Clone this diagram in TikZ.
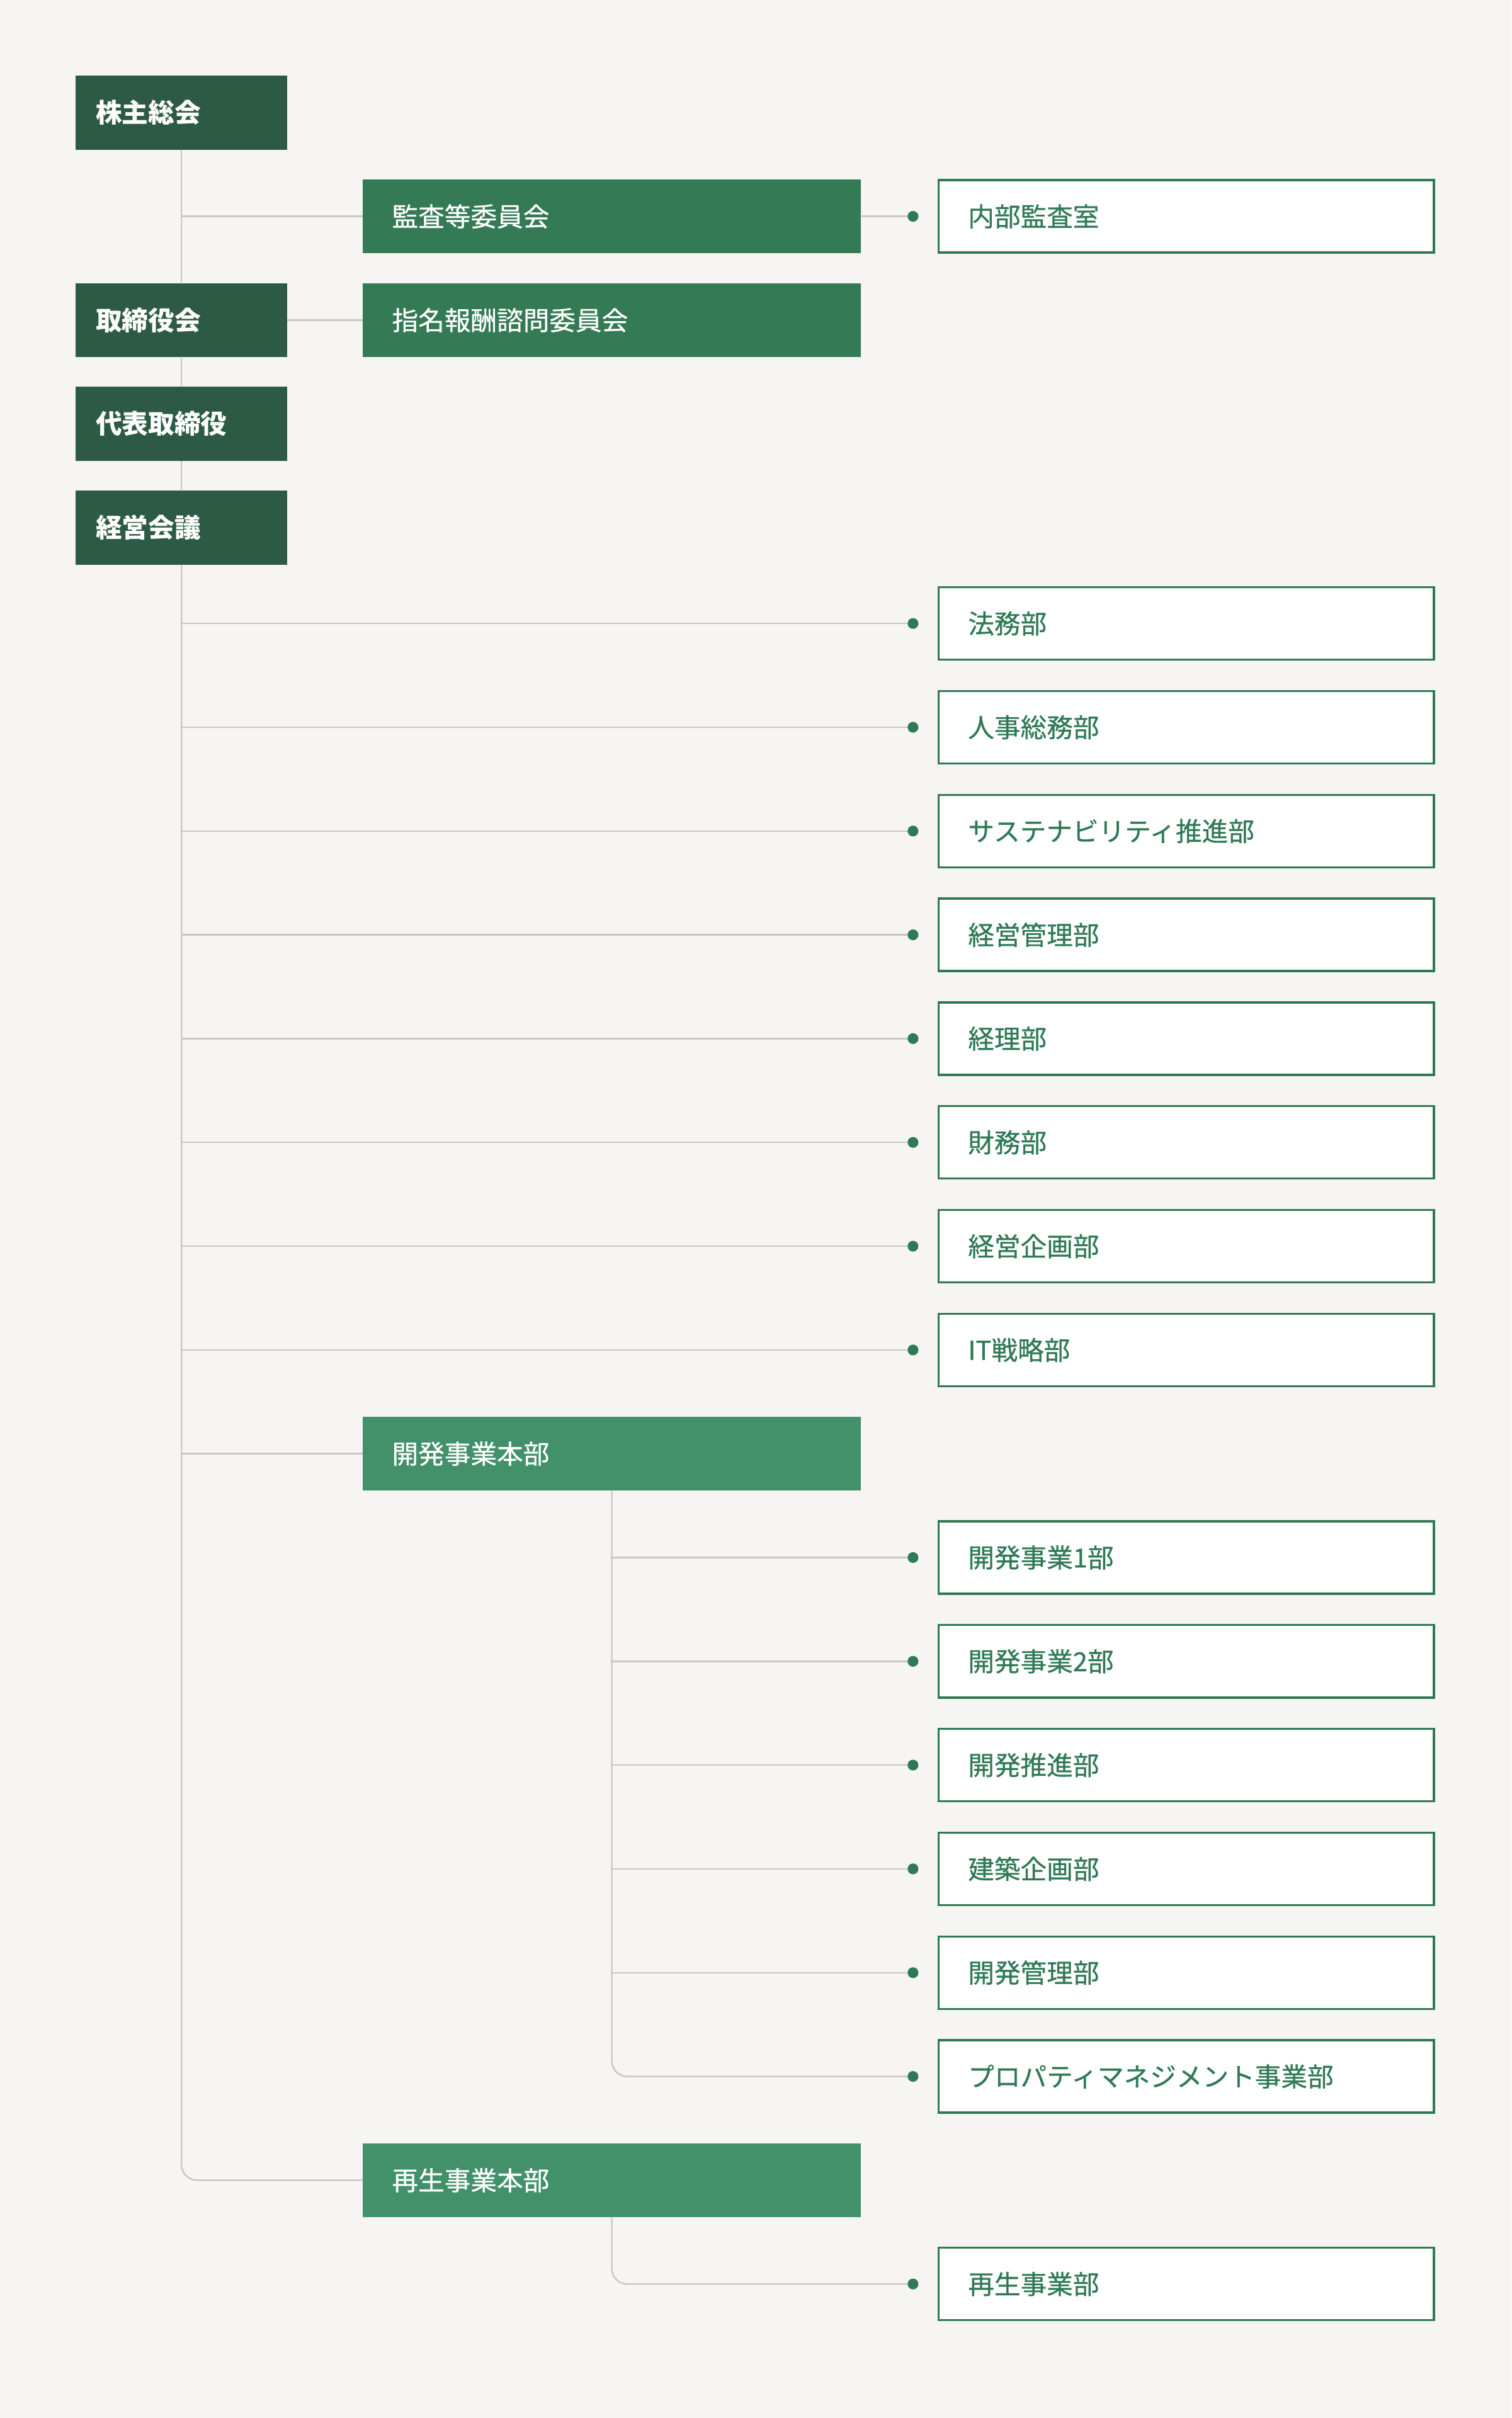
\documentclass[tikz,border=0pt]{standalone}
\usepackage{fontspec}
\setmainfont{Noto Sans CJK JP}
\newfontfamily\medfont[FakeBold=0.6]{Noto Sans CJK JP}
\usetikzlibrary{positioning}
\definecolor{bgcol}{HTML}{F6F5F3}
\definecolor{darkgreen}{HTML}{2C5A44}
\definecolor{midgreen}{HTML}{347A55}
\definecolor{lightgreen}{HTML}{42916A}
\definecolor{linegray}{HTML}{C8C7C5}
\definecolor{deptgreen}{HTML}{2F7A55}

\begin{document}
\begin{tikzpicture}[x=1pt,y=-1pt,
	topbox/.style={fill=darkgreen, text=white, font=\bfseries\fontsize{17}{20}\selectfont, anchor=west, minimum height=48pt, inner xsep=13pt, text width=111pt, align=left},
	cmtbox/.style={fill=midgreen, text=white, font=\medfont\fontsize{17}{20}\selectfont, anchor=west, minimum height=48pt, inner xsep=19pt, text width=285pt, align=left},
	hqbox/.style={cmtbox, fill=lightgreen},
	deptbox/.style={fill=white, draw=deptgreen, line width=1.4pt, text=deptgreen, font=\medfont\fontsize{17}{20}\selectfont, anchor=west, minimum height=47pt, inner xsep=19pt, text width=283pt, align=left},
	dot/.style={fill=deptgreen, shape=circle, inner sep=0pt, minimum size=7pt},
	conn/.style={draw=linegray, line width=1pt}]
	\useasboundingbox (0,0) rectangle (980,1568);
	\fill [bgcol] (0,0) rectangle (980,1568);

	% left column
	\node [topbox] (kabu) at (49, 73) {株主総会};
	\node [topbox] (tori) at (49, 207.6) {取締役会};
	\node [topbox] (daihyo) at (49, 274.9) {代表取締役};
	\node [topbox] (keiei) at (49, 342.2) {経営会議};

	% committees
	\node [cmtbox] (kansa) at (235, 140.3) {監査等委員会};
	\node [cmtbox] (shimei) at (235, 207.6) {指名報酬諮問委員会};
	\node [hqbox] (kaihatsu) at (235, 942.7) {開発事業本部};
	\node [hqbox] (saisei) at (235, 1413.8) {再生事業本部};

	% departments
	\node [deptbox] (naibu) at (608, 140.3) {内部監査室};
	\node [deptbox] (homu) at (608, 404.3) {法務部};
	\node [deptbox] (jinji) at (608, 471.6) {人事総務部};
	\node [deptbox] (sus) at (608, 538.9) {サステナビリティ推進部};
	\node [deptbox] (kanri) at (608, 606.2) {経営管理部};
	\node [deptbox] (keiri) at (608, 673.5) {経理部};
	\node [deptbox] (zaimu) at (608, 740.8) {財務部};
	\node [deptbox] (kikaku) at (608, 808.1) {経営企画部};
	\node [deptbox] (it) at (608, 875.4) {IT戦略部};
	\node [deptbox] (kai1) at (608, 1010) {開発事業1部};
	\node [deptbox] (kai2) at (608, 1077.3) {開発事業2部};
	\node [deptbox] (suishin) at (608, 1144.6) {開発推進部};
	\node [deptbox] (kenchiku) at (608, 1211.9) {建築企画部};
	\node [deptbox] (kaikanri) at (608, 1279.2) {開発管理部};
	\node [deptbox] (pm) at (608, 1346.5) {プロパティマネジメント事業部};
	\node [deptbox] (saiseibu) at (608, 1481.1) {再生事業部};

	% dots
	\node [dot] (d0) at (592, 140.3) {};
	\node [dot] (d1) at (592, 404.3) {};
	\node [dot] (d2) at (592, 471.6) {};
	\node [dot] (d3) at (592, 538.9) {};
	\node [dot] (d4) at (592, 606.2) {};
	\node [dot] (d5) at (592, 673.5) {};
	\node [dot] (d6) at (592, 740.8) {};
	\node [dot] (d7) at (592, 808.1) {};
	\node [dot] (d8) at (592, 875.4) {};
	\node [dot] (d9) at (592, 1010) {};
	\node [dot] (d10) at (592, 1077.3) {};
	\node [dot] (d11) at (592, 1144.6) {};
	\node [dot] (d12) at (592, 1211.9) {};
	\node [dot] (d13) at (592, 1279.2) {};
	\node [dot] (d14) at (592, 1346.5) {};
	\node [dot] (d15) at (592, 1481.1) {};

	% trunk
	\draw [conn] (kabu) to (tori);
	\draw [conn] (tori) to (daihyo);
	\draw [conn] (daihyo) to (keiei);
	\draw [conn, rounded corners=10pt] (keiei.south) |- (saisei.west);
	\coordinate (t0) at (kabu.south |- kansa.west);
	\draw [conn] (t0) to (kansa.west);
	\draw [conn] (tori) to (shimei);
	\draw [conn] (kansa) to (d0);

	\coordinate (t1) at (kabu.south |- d1);
	\coordinate (t2) at (kabu.south |- d2);
	\coordinate (t3) at (kabu.south |- d3);
	\coordinate (t4) at (kabu.south |- d4);
	\coordinate (t5) at (kabu.south |- d5);
	\coordinate (t6) at (kabu.south |- d6);
	\coordinate (t7) at (kabu.south |- d7);
	\coordinate (t8) at (kabu.south |- d8);
	\coordinate (t9) at (kabu.south |- kaihatsu.west);
	\draw [conn] (t1) to (d1);
	\draw [conn] (t2) to (d2);
	\draw [conn] (t3) to (d3);
	\draw [conn] (t4) to (d4);
	\draw [conn] (t5) to (d5);
	\draw [conn] (t6) to (d6);
	\draw [conn] (t7) to (d7);
	\draw [conn] (t8) to (d8);
	\draw [conn] (t9) to (kaihatsu.west);

	% kaihatsu branch
	\draw [conn, rounded corners=10pt] (kaihatsu.south) |- (d14);
	\coordinate (k9) at (kaihatsu.south |- d9);
	\coordinate (k10) at (kaihatsu.south |- d10);
	\coordinate (k11) at (kaihatsu.south |- d11);
	\coordinate (k12) at (kaihatsu.south |- d12);
	\coordinate (k13) at (kaihatsu.south |- d13);
	\draw [conn] (k9) to (d9);
	\draw [conn] (k10) to (d10);
	\draw [conn] (k11) to (d11);
	\draw [conn] (k12) to (d12);
	\draw [conn] (k13) to (d13);

	% saisei branch
	\draw [conn, rounded corners=10pt] (saisei.south) |- (d15);
\end{tikzpicture}
\end{document}
